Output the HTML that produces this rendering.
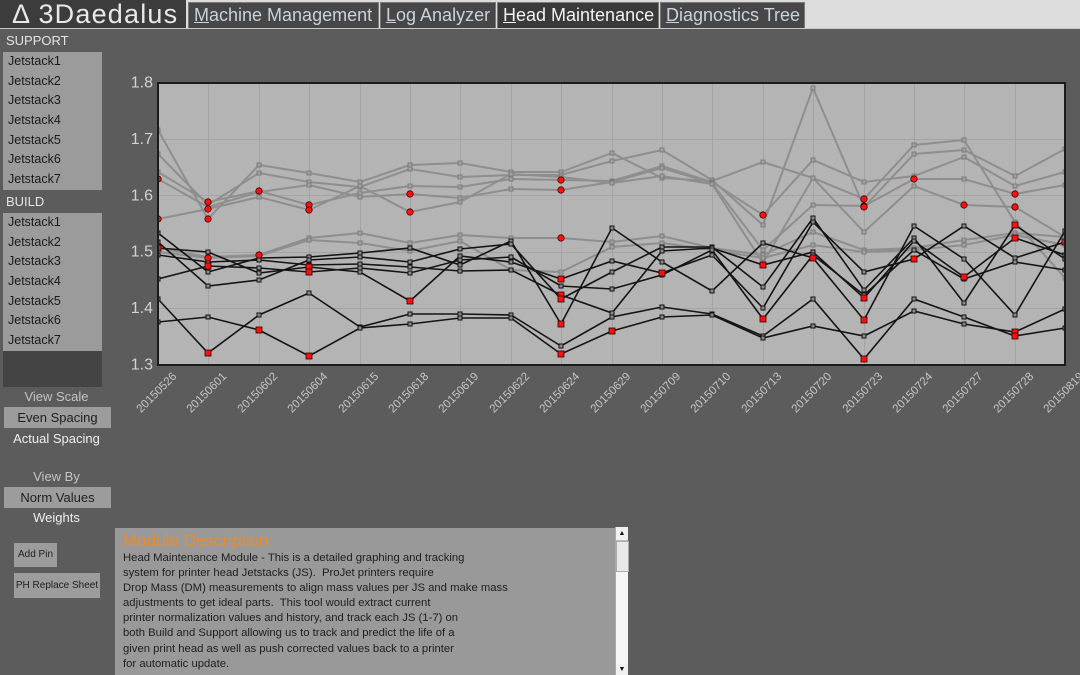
<!DOCTYPE html>
<html>
<head>
<meta charset="utf-8">
<style>
  html,body{margin:0;padding:0;}
  body{width:1080px;height:675px;overflow:hidden;background:#5c5c5c;position:relative;font-family:"Liberation Sans",sans-serif;}
  .abs{position:absolute;}
  #topbar{left:0;top:0;width:1080px;height:28px;background:#dcdcdc;}
  #title{left:0;top:0;width:186px;height:28px;background:#3c3c3c;color:#e8e8e8;font-size:27px;line-height:28px;letter-spacing:1.2px;}
  #title span{position:absolute;left:12px;top:0;white-space:nowrap;}
  .tab{top:2px;height:26px;background:#474747;border:1px solid #7a7a7a;border-bottom:none;box-sizing:border-box;color:#c9d3e0;font-size:18px;line-height:25px;padding-left:5px;white-space:nowrap;}
  .tab.active{background:#3a3a3a;color:#f2f2f2;}
  #hline{left:0;top:28px;width:1080px;height:1px;background:#c9c9c9;}
  .lbl{color:#e4e4e4;font-size:13px;}
  .list{left:3px;width:99px;background:#9b9b9b;}
  .list div{height:19.7px;line-height:19.7px;padding-left:5px;font-size:12.5px;color:#1a1a1a;}
  .ctr{left:0;width:113px;text-align:center;font-size:13px;}
  .btn{background:#9c9c9c;color:#202020;text-align:center;}
  #desc{left:115px;top:528px;width:500px;height:147px;background:#999999;}
  #desc .h{position:absolute;left:8px;top:3px;color:#f28a1e;font-size:17px;line-height:20px;}
  #desc .t{position:absolute;left:8px;top:23px;color:#1e1e1e;font-size:11.3px;line-height:15.1px;white-space:pre;}
  #sb{left:615px;top:527px;width:13px;height:148px;background:#f5f5f5;border-left:1px solid #aaa;box-sizing:border-box;}
</style>
</head>
<body>
<div id="topbar" class="abs"></div>
<div id="title" class="abs"><span>&Delta; 3Daedalus</span></div>
<div class="abs tab" style="left:188px;width:191px;"><u>M</u>achine Management</div>
<div class="abs tab" style="left:380px;width:116px;"><u>L</u>og Analyzer</div>
<div class="abs tab active" style="left:497px;width:162px;"><u>H</u>ead Maintenance</div>
<div class="abs tab" style="left:660px;width:145px;"><u>D</u>iagnostics Tree</div>
<div id="hline" class="abs"></div>

<div class="abs lbl" style="left:6px;top:33px;">SUPPORT</div>
<div class="abs list" style="top:52px;height:138px;">
  <div>Jetstack1</div><div>Jetstack2</div><div>Jetstack3</div><div>Jetstack4</div><div>Jetstack5</div><div>Jetstack6</div><div>Jetstack7</div>
</div>
<div class="abs lbl" style="left:6px;top:194px;">BUILD</div>
<div class="abs list" style="top:213px;height:138px;">
  <div>Jetstack1</div><div>Jetstack2</div><div>Jetstack3</div><div>Jetstack4</div><div>Jetstack5</div><div>Jetstack6</div><div>Jetstack7</div>
</div>
<div class="abs" style="left:3px;top:351px;width:99px;height:36px;background:#444444;"></div>

<div class="abs ctr" style="top:389px;color:#c4c4c4;">View Scale</div>
<div class="abs btn" style="left:4px;top:407px;width:107px;height:21px;line-height:21px;font-size:13px;">Even Spacing</div>
<div class="abs ctr" style="top:431px;color:#efefef;">Actual Spacing</div>
<div class="abs ctr" style="top:469px;color:#c4c4c4;">View By</div>
<div class="abs btn" style="left:4px;top:487px;width:107px;height:21px;line-height:21px;font-size:13px;">Norm Values</div>
<div class="abs ctr" style="top:510px;color:#efefef;">Weights</div>
<div class="abs btn" style="left:14px;top:543px;width:43px;height:24px;line-height:24px;font-size:10px;">Add Pin</div>
<div class="abs btn" style="left:14px;top:573px;width:86px;height:25px;line-height:25px;font-size:10px;">PH Replace Sheet</div>

<div id="desc" class="abs">
<div class="h">Module Description</div>
<div class="t">Head Maintenance Module - This is a detailed graphing and tracking
system for printer head Jetstacks (JS).  ProJet printers require
Drop Mass (DM) measurements to align mass values per JS and make mass
adjustments to get ideal parts.  This tool would extract current
printer normalization values and history, and track each JS (1-7) on
both Build and Support allowing us to track and predict the life of a
given print head as well as push corrected values back to a printer
for automatic update.</div>
</div>
<div id="sb" class="abs">
  <div style="position:absolute;left:0;top:0;width:12px;height:13px;background:#f0f0f0;border-bottom:1px solid #bbb;font-size:7px;line-height:13px;text-align:center;color:#111;">&#9650;</div>
  <div style="position:absolute;left:0;top:14px;width:11px;height:29px;background:#e8e8e8;border:1px solid #aaa;"></div>
  <div style="position:absolute;left:0;top:137px;width:12px;height:11px;background:#f0f0f0;font-size:7px;line-height:11px;text-align:center;color:#111;">&#9660;</div>
</div>

<svg class="abs" style="left:0;top:0;" width="1080" height="675" xmlns="http://www.w3.org/2000/svg">
  <defs>
    <clipPath id="pc"><rect x="158" y="83" width="907" height="282"/></clipPath>
    <marker id="mg" markerUnits="userSpaceOnUse" markerWidth="6" markerHeight="6" refX="3" refY="3">
      <rect x="1" y="1" width="4" height="4" fill="#a0a0a0" stroke="#7c7c7c" stroke-width="1"/>
    </marker>
    <marker id="mk" markerUnits="userSpaceOnUse" markerWidth="6" markerHeight="6" refX="3" refY="3">
      <rect x="1" y="1" width="4" height="4" fill="#8a8a8a" stroke="#111" stroke-width="1"/>
    </marker>
  </defs>
  <rect x="158" y="83" width="907" height="282" fill="#b4b4b4"/>
  <g stroke="#a4a4a4" stroke-width="1">
    <line x1="158" y1="139.5" x2="1065" y2="139.5"/>
    <line x1="158" y1="195.5" x2="1065" y2="195.5"/>
    <line x1="158" y1="252.5" x2="1065" y2="252.5"/>
    <line x1="158" y1="308.5" x2="1065" y2="308.5"/>
    <line x1="208.5" y1="83" x2="208.5" y2="365"/>
    <line x1="259.5" y1="83" x2="259.5" y2="365"/>
    <line x1="309.5" y1="83" x2="309.5" y2="365"/>
    <line x1="360.5" y1="83" x2="360.5" y2="365"/>
    <line x1="410.5" y1="83" x2="410.5" y2="365"/>
    <line x1="460.5" y1="83" x2="460.5" y2="365"/>
    <line x1="511.5" y1="83" x2="511.5" y2="365"/>
    <line x1="561.5" y1="83" x2="561.5" y2="365"/>
    <line x1="612.5" y1="83" x2="612.5" y2="365"/>
    <line x1="662.5" y1="83" x2="662.5" y2="365"/>
    <line x1="712.5" y1="83" x2="712.5" y2="365"/>
    <line x1="763.5" y1="83" x2="763.5" y2="365"/>
    <line x1="813.5" y1="83" x2="813.5" y2="365"/>
    <line x1="864.5" y1="83" x2="864.5" y2="365"/>
    <line x1="914.5" y1="83" x2="914.5" y2="365"/>
    <line x1="964.5" y1="83" x2="964.5" y2="365"/>
    <line x1="1015.5" y1="83" x2="1015.5" y2="365"/>
  </g>
  <g clip-path="url(#pc)" fill="none">
    <g stroke="#8e8e8e" stroke-width="2" marker-start="url(#mg)" marker-mid="url(#mg)" marker-end="url(#mg)">
      <polyline points="158,130 208,219 259,165 309,173 360,182 410,165 460,163 511,172 561,172 612,153 662,178 712,181 763,162 813,178 864,199 914,145 964,140 1015,222 1065,278"/>
      <polyline points="158,154 208,205 259,173 309,182 360,187 410,169 460,177 511,175 561,175 612,161 662,150 712,180 763,225 813,88 864,207 914,154 964,150 1015,176 1065,149"/>
      <polyline points="158,172 208,202 259,191 309,205 360,193 410,186 460,187 511,179 561,180 612,181 662,166 712,182 763,215 813,160 864,182 914,176 964,157 1015,186 1065,172"/>
      <polyline points="158,179 208,207 259,192 309,185 360,197 410,194 460,198 511,189 561,190 612,182 662,168 712,183 763,250 813,205 864,206 914,179 964,179 1015,194 1065,185"/>
      <polyline points="158,219 208,209 259,197 309,210 360,186 410,212 460,202 511,174 561,177 612,183 662,176 712,184 763,263 813,178 864,232 914,186 964,205 1015,207 1065,237"/>
      <polyline points="158,248 208,257 259,255 309,238 360,233 410,243 460,235 511,238 561,238 612,242 662,236 712,248 763,255 813,232 864,250 914,248 964,240 1015,233 1065,237"/>
      <polyline points="158,252 208,258 259,256 309,240 360,243 410,251 460,241 511,270 561,272 612,247 662,243 712,250 763,258 813,245 864,252 914,250 964,245 1015,235 1065,245"/>
    </g>
    <g stroke="#141414" stroke-width="1.6" marker-start="url(#mk)" marker-mid="url(#mk)" marker-end="url(#mk)">
      <polyline points="158,233 208,272 259,258 309,257 360,253 410,248 460,265 511,241 561,324 612,228 662,262 712,291 763,243 813,258 864,320 914,226 964,259 1015,315 1065,231"/>
      <polyline points="158,242 208,286 259,280 309,260 360,257 410,262 460,249 511,244 561,299 612,272 662,247 712,247 763,287 813,218 864,290 914,238 964,303 1015,225 1065,259"/>
      <polyline points="158,248 208,252 259,273 309,267 360,272 410,301 460,256 511,262 561,279 612,261 662,273 712,255 763,308 813,222 864,272 914,259 964,226 1015,258 1065,242"/>
      <polyline points="158,255 208,262 259,260 309,265 360,264 410,267 460,271 511,270 561,295 612,313 662,251 712,248 763,265 813,252 864,298 914,241 964,277 1015,238 1065,255"/>
      <polyline points="158,279 208,266 259,268 309,272 360,268 410,273 460,260 511,257 561,286 612,289 662,275 712,250 763,319 813,255 864,295 914,250 964,279 1015,262 1065,270"/>
      <polyline points="158,299 208,353 259,315 309,293 360,327 410,314 460,314 511,315 561,346 612,317 662,307 712,314 763,336 813,299 864,359 914,299 964,317 1015,336 1065,328"/>
      <polyline points="158,322 208,317 259,330 309,356 360,328 410,324 460,318 511,318 561,354 612,331 662,317 712,315 763,338 813,326 864,336 914,311 964,324 1015,332 1065,309"/>
    </g>
    <g fill="#ff1010" stroke="#3a0000" stroke-width="0.8">
      <circle cx="158" cy="179" r="3.2"/><circle cx="158" cy="219" r="3.2"/>
      <circle cx="208" cy="202" r="3.2"/><circle cx="208" cy="209" r="3.2"/><circle cx="208" cy="219" r="3.2"/><circle cx="208" cy="258" r="3.2"/>
      <circle cx="259" cy="191" r="3.2"/><circle cx="259" cy="255" r="3.2"/>
      <circle cx="309" cy="205" r="3.2"/><circle cx="309" cy="210" r="3.2"/>
      <circle cx="410" cy="194" r="3.2"/><circle cx="410" cy="212" r="3.2"/>
      <circle cx="561" cy="180" r="3.2"/><circle cx="561" cy="190" r="3.2"/><circle cx="561" cy="238" r="3.2"/>
      <circle cx="763" cy="215" r="3.2"/>
      <circle cx="864" cy="199" r="3.2"/><circle cx="864" cy="206" r="3.2"/><circle cx="864" cy="207" r="3.2"/>
      <circle cx="914" cy="179" r="3.2"/>
      <circle cx="964" cy="205" r="3.2"/>
      <circle cx="1015" cy="194" r="3.2"/><circle cx="1015" cy="207" r="3.2"/>
    </g>
    <g fill="#ff1010" stroke="#2a0000" stroke-width="0.8">
      <rect x="155" y="245" width="6" height="6"/>
      <rect x="205" y="263" width="6" height="6"/><rect x="205" y="350" width="6" height="6"/>
      <rect x="256" y="327" width="6" height="6"/>
      <rect x="306" y="264" width="6" height="6"/><rect x="306" y="269" width="6" height="6"/><rect x="306" y="353" width="6" height="6"/>
      <rect x="407" y="298" width="6" height="6"/>
      <rect x="558" y="276" width="6" height="6"/><rect x="558" y="292" width="6" height="6"/><rect x="558" y="296" width="6" height="6"/><rect x="558" y="321" width="6" height="6"/><rect x="558" y="351" width="6" height="6"/>
      <rect x="609" y="328" width="6" height="6"/>
      <rect x="659" y="270" width="6" height="6"/>
      <rect x="760" y="262" width="6" height="6"/><rect x="760" y="316" width="6" height="6"/>
      <rect x="810" y="255" width="6" height="6"/>
      <rect x="861" y="295" width="6" height="6"/><rect x="861" y="317" width="6" height="6"/><rect x="861" y="356" width="6" height="6"/>
      <rect x="911" y="256" width="6" height="6"/>
      <rect x="961" y="274" width="6" height="6"/>
      <rect x="1012" y="222" width="6" height="6"/><rect x="1012" y="235" width="6" height="6"/><rect x="1012" y="329" width="6" height="6"/><rect x="1012" y="333" width="6" height="6"/>
      <rect x="1062" y="239" width="6" height="6"/>
    </g>
  </g>
  <rect x="158" y="83" width="907" height="282" fill="none" stroke="#1c1c1c" stroke-width="2"/>
  <g fill="#d2d2d2" font-family="Liberation Sans, sans-serif" font-size="16" text-anchor="end" dominant-baseline="central">
    <text x="153" y="83">1.8</text>
    <text x="153" y="139.5">1.7</text>
    <text x="153" y="196">1.6</text>
    <text x="153" y="252">1.5</text>
    <text x="153" y="308.5">1.4</text>
    <text x="153" y="365">1.3</text>
  </g>
  <g fill="#c6c6c6" font-family="Liberation Sans, sans-serif" font-size="11.5" text-anchor="middle" dominant-baseline="central">
    <text x="157" y="393" transform="rotate(-45 157 393)">20150526</text>
    <text x="207" y="393" transform="rotate(-45 207 393)">20150601</text>
    <text x="258" y="393" transform="rotate(-45 258 393)">20150602</text>
    <text x="308" y="393" transform="rotate(-45 308 393)">20150604</text>
    <text x="359" y="393" transform="rotate(-45 359 393)">20150615</text>
    <text x="409" y="393" transform="rotate(-45 409 393)">20150618</text>
    <text x="459" y="393" transform="rotate(-45 459 393)">20150619</text>
    <text x="510" y="393" transform="rotate(-45 510 393)">20150622</text>
    <text x="560" y="393" transform="rotate(-45 560 393)">20150624</text>
    <text x="611" y="393" transform="rotate(-45 611 393)">20150629</text>
    <text x="661" y="393" transform="rotate(-45 661 393)">20150709</text>
    <text x="711" y="393" transform="rotate(-45 711 393)">20150710</text>
    <text x="762" y="393" transform="rotate(-45 762 393)">20150713</text>
    <text x="812" y="393" transform="rotate(-45 812 393)">20150720</text>
    <text x="863" y="393" transform="rotate(-45 863 393)">20150723</text>
    <text x="913" y="393" transform="rotate(-45 913 393)">20150724</text>
    <text x="963" y="393" transform="rotate(-45 963 393)">20150727</text>
    <text x="1014" y="393" transform="rotate(-45 1014 393)">20150728</text>
    <text x="1064" y="393" transform="rotate(-45 1064 393)">20150819</text>
  </g>
</svg>
</body>
</html>
